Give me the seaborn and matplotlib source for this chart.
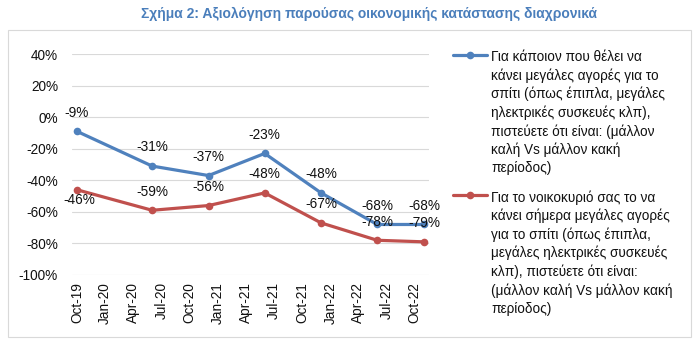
import pandas as pd
import seaborn as sns
import matplotlib.pyplot as plt
import matplotlib.dates as mdates
from matplotlib.lines import Line2D
from matplotlib.patches import Rectangle

# data
dates = ['2019-10-01', '2020-06-01', '2020-12-01', '2021-06-01', '2021-12-01', '2022-06-01', '2022-11-01']
blue_vals = [-9, -31, -37, -23, -48, -68, -68]
red_vals = [-46, -59, -56, -48, -67, -78, -79]
series_names = [
    'Για κάποιον που θέλει να\nκάνει μεγάλες αγορές για το\nσπίτι (όπως έπιπλα, μεγάλες\n'
    'ηλεκτρικές συσκευές κλπ),\nπιστεύετε ότι είναι: (μάλλον\nκαλή Vs μάλλον κακή\nπερίοδος)',
    'Για το νοικοκυριό σας το να\nκάνει σήμερα μεγάλες αγορές\nγια το σπίτι (όπως έπιπλα,\n'
    'μεγάλες ηλεκτρικές συσκευές\nκλπ), πιστεύετε ότι είναι:\n(μάλλον καλή Vs μάλλον κακή\nπερίοδος)',
]
title = 'Σχήμα 2: Αξιολόγηση παρούσας οικονομικής κατάστασης διαχρονικά'
colors = ['#4F81BD', '#C0504D']

df = pd.DataFrame({
    'date': pd.to_datetime(dates * 2),
    'value': blue_vals + red_vals,
    'series': [series_names[0]] * len(dates) + [series_names[1]] * len(dates),
})

sns.set_style('white')
plt.rcParams['font.family'] = ['Liberation Sans', 'DejaVu Sans']

W, H = 696, 354
fig = plt.figure(figsize=(W / 100, H / 100), dpi=100)
ax = fig.add_axes([72 / W, 79 / H, 357 / W, 221 / H])

sns.lineplot(data=df, x='date', y='value', hue='series', palette=colors,
             marker='o', markersize=5.5, markeredgewidth=0, linewidth=2.3,
             legend=False, ax=ax)

fs = 9.8
# data labels (label above point; first red point sits below)
for vals in (blue_vals, red_vals):
    for i, (d, v) in enumerate(zip(pd.to_datetime(dates), vals)):
        off = (2, -7.5) if vals is red_vals and i == 0 else (0, 13.5)
        ax.annotate(f'{v}%', (d, v), xytext=off, textcoords='offset points',
                    ha='center', va='center', fontsize=fs, color='#111111')

ax.set_ylim(-100, 40)
ax.set_yticks(range(-100, 41, 20))
ax.set_yticklabels([f'{t}%' for t in range(-100, 41, 20)])
ax.set_xlim(pd.Timestamp('2019-09-15'), pd.Timestamp('2022-11-16'))
ax.set_xticks(pd.date_range('2019-10-01', '2022-10-01', freq='3MS'))
ax.xaxis.set_major_formatter(mdates.DateFormatter('%b-%y'))
ax.tick_params(axis='x', rotation=90, length=0, pad=5, labelsize=fs, colors='#111111')
ax.tick_params(axis='y', length=0, pad=10, labelsize=fs, colors='#111111')
ax.grid(axis='y', color='#D9D9D9', linewidth=0.8)
ax.grid(axis='x', visible=False)
ax.set_xlabel('')
ax.set_ylabel('')
for s in ax.spines.values():
    s.set_visible(False)

# legend drawn by hand so the marker sits on the first text line
for k, (name, c) in enumerate(zip(series_names, colors)):
    y0 = 55 if k == 0 else 195
    fig.add_artist(Line2D([453 / W, 487 / W], [1 - y0 / H] * 2, transform=fig.transFigure,
                          color=c, linewidth=2.3))
    fig.add_artist(Line2D([470 / W], [1 - y0 / H], transform=fig.transFigure,
                          color=c, marker='o', markersize=5.5, markeredgewidth=0))
    fig.text(491 / W, 1 - (y0 - 5) / H, name, ha='left', va='top', fontsize=fs,
             color='#111111', linespacing=1.36)

fig.text(369 / W, 1 - 14 / H, title, ha='center', va='center', fontsize=10,
         fontweight='bold', color='#4A7EBB')
fig.add_artist(Rectangle((8 / W, 17 / H), 683 / W, 307 / H, transform=fig.transFigure,
                         fill=False, edgecolor='#D9D9D9', linewidth=0.8))

plt.savefig('out.png', dpi=100)
